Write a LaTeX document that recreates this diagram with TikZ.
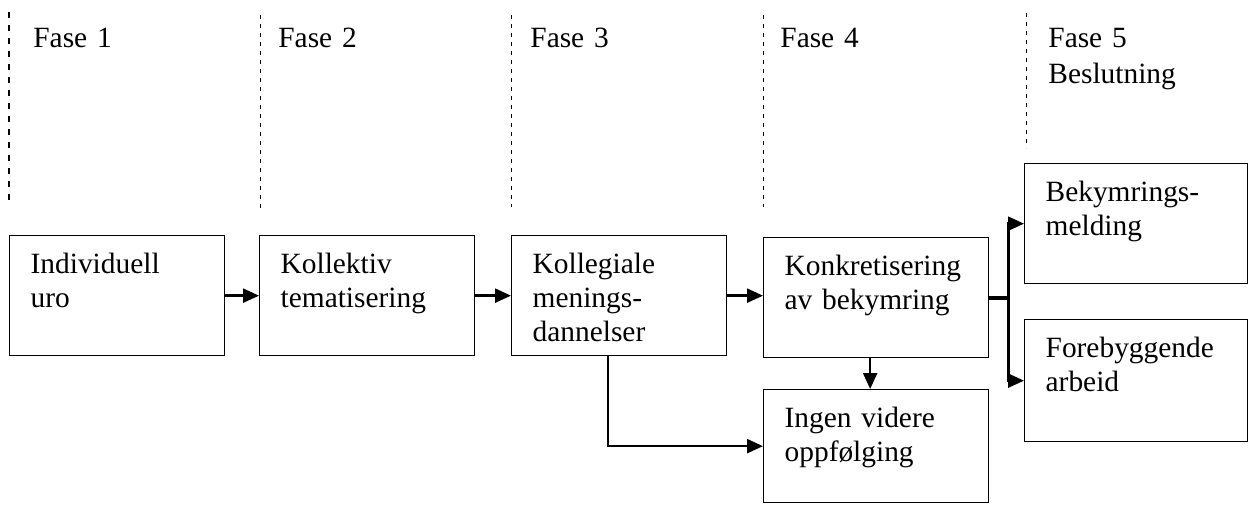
\documentclass[tikz,border=0pt]{standalone}
\usepackage{fontspec}
\setmainfont{Liberation Serif}
\usetikzlibrary{arrows.meta}
\begin{document}
\begin{tikzpicture}[y=-0.5pt,x=0.5pt,
	every node/.style={font=\fontsize{14.7}{17}\selectfont},
	Fase/.style={anchor=base west, inner sep=0pt, text width=90pt, align=left},
	Box/.style={draw, line width=0.65pt, anchor=north west, inner xsep=10.5pt, inner ysep=0pt,
		text width=86.5pt, align=left, text height=19pt, text depth=41pt},
	Arrow/.style={line width=1.2pt, -{Triangle[length=8pt,width=7pt]}},
	Sep/.style={dash pattern=on 2pt off 2.5pt, line width=0.5pt}]
	\useasboundingbox (0,0) rectangle (1248,504);

	\draw[Sep, line width=1pt, dash pattern=on 3pt off 3.5pt] (9,12) -- (9,205);
	\foreach \x/\y in {260/208, 511/207, 763/207}
		\draw[Sep] (\x,15) -- (\x,\y);
	\draw[Sep] (1026,13) -- (1026,148);

	\node[Fase] (f1) at (33,47) {Fase 1};
	\node[Fase] (f2) at (278,47) {Fase 2};
	\node[Fase] (f3) at (530,47) {Fase 3};
	\node[Fase] (f4) at (780,47) {Fase 4};
	\node[Fase, font=\fontsize{14.7}{18}\selectfont] (f5) at (1048,47) {Fase 5\\Beslutning};

	\node[Box] (indiv) at (9,235) {Individuell\\uro};
	\node[Box] (koll) at (259,235) {Kollektiv\\tematisering};
	\node[Box] (kolleg) at (511,235) {Kollegiale\\menings-\\dannelser};
	\node[Box, text width=91.5pt] (konk) at (763,237) {Konkretisering\\av bekymring};
	\node[Box, text width=91.5pt, text depth=37.5pt] (ingen) at (763,389) {Ingen videre\\oppfølging};
	\node[Box, text width=90.5pt] (bekym) at (1024,163) {Bekymrings-\\melding};
	\node[Box, text width=90.5pt, text depth=42pt] (foreb) at (1024,319) {Forebyggende\\arbeid};

	\draw[Arrow] (indiv.east) -- (indiv.east -| koll.west);
	\draw[Arrow] (koll.east) -- (koll.east -| kolleg.west);
	\draw[Arrow] (kolleg.east) -- (kolleg.east -| konk.west);
	\draw[Arrow] ([xshift=-3pt]konk.south) -- ([xshift=-3pt]ingen.north);
	\draw[Arrow] ([xshift=-5.5pt]kolleg.south) |- (ingen.west);

	\coordinate (split) at ([xshift=9.5pt]konk.east);
	\draw[line width=2pt] (konk.east) -- (split);
	\draw[Arrow] (split) |- (bekym.west);
	\draw[Arrow] (split) |- (foreb.west);
\end{tikzpicture}
\end{document}
